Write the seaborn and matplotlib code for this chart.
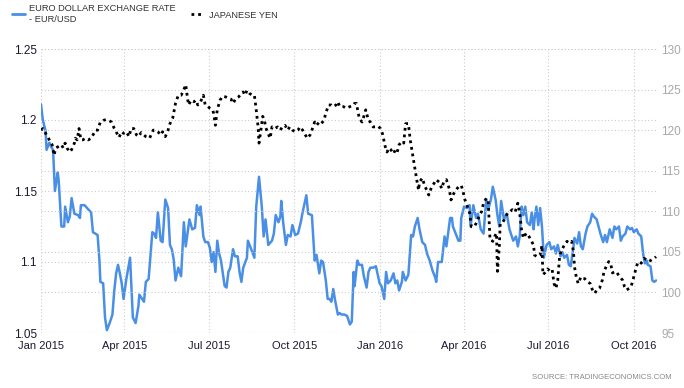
import numpy as np
import pandas as pd
import matplotlib
matplotlib.use('Agg')
import matplotlib.pyplot as plt
from matplotlib.lines import Line2D
import seaborn as sns

# days since 2015-01-01 and values
eur_days = [0, 2, 5, 6, 9, 11, 13, 15, 18, 19, 22, 25, 26, 29, 31, 33, 36, 40, 42, 43, 47, 51, 54, 56, 61, 63, 64, 67, 69, 71,
            74, 77, 79, 81, 83, 85, 87, 89, 92, 96, 99, 102, 105, 106, 111, 113, 116, 120, 122, 124, 126, 129, 131, 134, 137, 139,
            141, 143, 145, 148, 151, 154, 156, 160, 163, 166, 168, 171, 172, 175, 177, 180, 182, 184, 186, 188, 190, 192, 194, 198,
            200, 202, 204, 207, 209, 212, 214, 216, 218, 222, 223, 226, 230, 232, 235, 238, 240, 242, 245, 249, 251, 253, 256, 258,
            259, 261, 264, 266, 269, 271, 274, 277, 280, 282, 286, 288, 292, 295, 297, 300, 302, 304, 307, 309, 311, 313, 315, 317,
            320, 322, 324, 327, 330, 333, 335, 337, 338, 341, 343, 346, 348, 351, 353, 355, 358, 361, 363, 365, 367, 370, 372, 374,
            377, 380, 382, 384, 386, 389, 390, 393, 396, 399, 401, 403, 406, 408, 411, 414, 416, 419, 422, 425, 426, 428, 431, 432,
            435, 437, 441, 443, 444, 447, 450, 452, 453, 456, 459, 462, 463, 466, 469, 471, 474, 477, 480, 482, 485, 487, 490, 492,
            494, 496, 499, 502, 505, 506, 509, 512, 514, 516, 518, 520, 522, 524, 527, 529, 531, 532, 534, 536, 538, 540, 542, 545,
            548, 550, 553, 555, 557, 560, 562, 564, 567, 569, 571, 574, 575, 578, 580, 582, 584, 587, 589, 592, 594, 596, 599, 601,
            603, 606, 608, 610, 613, 616, 618, 620, 623, 625, 627, 630, 632, 635, 637, 639, 642, 644, 647, 649, 651, 653, 654, 657,
            659, 661, 663]
eur_usd = [1.211, 1.200, 1.192, 1.179, 1.184, 1.181, 1.179, 1.150, 1.163, 1.158, 1.125, 1.125, 1.139, 1.128, 1.132, 1.145,
           1.134, 1.133, 1.131, 1.140, 1.140, 1.137, 1.135, 1.121, 1.119, 1.101, 1.086, 1.085, 1.061, 1.052, 1.057, 1.063, 1.080,
           1.092, 1.098, 1.092, 1.085, 1.074, 1.088, 1.103, 1.061, 1.057, 1.069, 1.077, 1.072, 1.086, 1.088, 1.121, 1.120, 1.117,
           1.135, 1.115, 1.114, 1.144, 1.138, 1.112, 1.109, 1.102, 1.087, 1.096, 1.090, 1.128, 1.111, 1.130, 1.123, 1.124, 1.140,
           1.133, 1.139, 1.118, 1.114, 1.114, 1.110, 1.100, 1.107, 1.093, 1.115, 1.106, 1.101, 1.083, 1.082, 1.093, 1.096, 1.109,
           1.104, 1.104, 1.093, 1.086, 1.096, 1.103, 1.115, 1.110, 1.103, 1.139, 1.160, 1.139, 1.118, 1.130, 1.112, 1.115, 1.120,
           1.133, 1.128, 1.132, 1.143, 1.128, 1.112, 1.119, 1.118, 1.126, 1.119, 1.120, 1.128, 1.135, 1.147, 1.134, 1.133, 1.101,
           1.105, 1.092, 1.101, 1.100, 1.087, 1.074, 1.074, 1.072, 1.081, 1.073, 1.063, 1.064, 1.063, 1.063, 1.062, 1.056, 1.058,
           1.093, 1.083, 1.101, 1.098, 1.098, 1.090, 1.082, 1.093, 1.096, 1.096, 1.097, 1.091, 1.085, 1.083, 1.074, 1.093, 1.085,
           1.087, 1.092, 1.085, 1.087, 1.080, 1.086, 1.093, 1.087, 1.091, 1.119, 1.118, 1.125, 1.131, 1.123, 1.114, 1.112, 1.106,
           1.101, 1.094, 1.089, 1.086, 1.100, 1.100, 1.100, 1.118, 1.111, 1.131, 1.131, 1.125, 1.120, 1.115, 1.115, 1.131, 1.139,
           1.138, 1.140, 1.125, 1.140, 1.131, 1.134, 1.123, 1.120, 1.144, 1.137, 1.144, 1.153, 1.144, 1.133, 1.125, 1.143, 1.130,
           1.134, 1.123, 1.121, 1.115, 1.118, 1.111, 1.118, 1.139, 1.133, 1.139, 1.128, 1.126, 1.135, 1.123, 1.130, 1.139, 1.126,
           1.138, 1.125, 1.103, 1.112, 1.114, 1.109, 1.111, 1.106, 1.112, 1.104, 1.107, 1.103, 1.105, 1.098, 1.097, 1.111, 1.117,
           1.113, 1.121, 1.111, 1.109, 1.120, 1.125, 1.128, 1.134, 1.132, 1.130, 1.125, 1.120, 1.114, 1.119, 1.114, 1.123, 1.117,
           1.125, 1.123, 1.125, 1.115, 1.118, 1.120, 1.125, 1.123, 1.124, 1.121, 1.123, 1.120, 1.118, 1.106, 1.099, 1.101, 1.098,
           1.097, 1.087, 1.086, 1.087]

yen_days = [0, 2, 5, 8, 10, 12, 14, 16, 19, 22, 24, 26, 28, 31, 33, 36, 37, 39, 41, 43, 45, 48, 51, 54, 56, 59, 61, 64, 67, 70,
            73, 76, 79, 81, 84, 87, 89, 92, 95, 97, 100, 103, 105, 108, 111, 113, 117, 121, 123, 126, 129, 131, 134, 137, 139, 142,
            145, 148, 151, 153, 156, 157, 159, 162, 165, 167, 169, 172, 175, 177, 180, 182, 185, 186, 188, 190, 193, 196, 199, 202,
            205, 207, 210, 213, 216, 218, 220, 222, 225, 228, 230, 232, 234, 235, 237, 239, 241, 242, 244, 247, 249, 252, 255, 258,
            260, 263, 266, 268, 271, 274, 277, 279, 282, 284, 287, 290, 292, 295, 297, 300, 302, 305, 307, 310, 313, 315, 318, 320,
            322, 326, 329, 333, 337, 338, 340, 343, 346, 348, 350, 353, 355, 358, 361, 363, 366, 368, 371, 373, 375, 377, 380, 382,
            384, 386, 389, 391, 393, 396, 398, 401, 403, 405, 407, 408, 411, 414, 416, 418, 421, 424, 426, 429, 432, 434, 437, 440,
            442, 444, 447, 450, 453, 455, 457, 459, 462, 464, 467, 470, 472, 475, 477, 480, 482, 484, 487, 489, 491, 492, 494, 495,
            498, 500, 503, 505, 508, 511, 514, 516, 518, 520, 523, 525, 528, 531, 532, 535, 538, 540, 541, 543, 546, 549, 551, 553,
            555, 557, 559, 561, 564, 567, 569, 572, 574, 575, 577, 579, 582, 584, 586, 589, 592, 595, 597, 599, 602, 605, 607, 610,
            612, 614, 616, 619, 621, 624, 627, 629, 631, 634, 636, 638, 641, 643, 645, 647, 650, 653, 655, 658, 661, 663]
jpy = [120.0, 120.2, 119.6, 119.0, 118.6, 118.2, 116.9, 117.8, 118.0, 118.2, 117.8, 118.4, 117.8, 117.3, 117.6, 118.4, 119.0,
       118.8, 120.2, 118.8, 118.8, 119.0, 118.8, 119.0, 119.4, 120.0, 120.0, 121.0, 121.2, 121.3, 121.2, 121.0, 120.2, 119.8,
       119.1, 119.8, 119.6, 119.8, 119.2, 120.2, 120.2, 119.4, 119.2, 119.7, 119.4, 119.2, 119.0, 120.0, 120.0, 119.8, 119.4,
       119.8, 119.2, 120.0, 120.8, 121.5, 123.3, 124.3, 124.3, 124.7, 125.6, 124.7, 123.1, 123.7, 123.5, 123.7, 123.1, 123.5,
       124.3, 123.1, 122.9, 122.7, 122.5, 122.1, 120.6, 122.5, 123.7, 124.2, 124.1, 123.9, 123.8, 123.3, 123.9, 124.1, 124.5,
       124.7, 124.3, 124.9, 124.5, 124.3, 124.3, 122.5, 120.4, 118.4, 120.0, 121.7, 121.2, 120.4, 119.8, 119.0, 120.4, 120.2,
       120.4, 120.0, 120.4, 120.6, 120.0, 120.4, 120.0, 119.8, 120.0, 120.4, 120.0, 119.6, 119.0, 119.4, 120.0, 121.0, 120.6,
       121.0, 120.8, 121.2, 122.1, 123.1, 123.1, 122.9, 123.1, 123.5, 122.9, 122.9, 122.7, 122.9, 123.1, 123.3, 123.3, 121.5,
       121.0, 121.7, 122.5, 121.2, 121.0, 120.4, 120.4, 120.5, 120.2, 119.6, 118.0, 117.3, 117.8, 117.6, 117.1, 117.6, 117.3,
       118.2, 118.6, 118.4, 120.8, 120.8, 118.8, 116.7, 115.3, 113.9, 112.6, 113.6, 114.1, 113.0, 112.6, 112.0, 113.0, 113.5,
       113.9, 113.6, 112.8, 113.6, 113.9, 112.8, 111.4, 112.0, 112.6, 113.0, 113.2, 112.4, 111.4, 110.8, 109.8, 108.1, 108.1,
       108.7, 109.3, 110.0, 111.0, 111.6, 111.4, 106.5, 106.3, 106.9, 107.3, 102.6, 105.6, 108.5, 108.7, 109.1, 109.8, 109.9,
       110.2, 109.9, 111.0, 109.8, 107.7, 106.7, 107.3, 107.1, 106.5, 105.8, 104.6, 104.4, 104.6, 105.8, 102.2, 102.4, 102.9,
       102.6, 102.8, 101.1, 100.5, 101.5, 104.4, 105.2, 105.8, 106.3, 106.1, 106.3, 105.0, 103.2, 101.9, 101.1, 101.9, 101.7,
       101.7, 101.3, 101.1, 100.1, 99.9, 100.3, 100.5, 101.5, 102.6, 103.4, 103.8, 103.6, 102.4, 102.6, 102.4, 101.9, 101.5,
       100.7, 100.3, 100.5, 100.7, 101.5, 102.8, 103.6, 103.8, 103.6, 104.2, 104.0, 103.8, 104.0, 104.2, 104.4]

tick_labels = ['Jan 2015', 'Apr 2015', 'Jul 2015', 'Oct 2015', 'Jan 2016', 'Apr 2016', 'Jul 2016', 'Oct 2016']

start = pd.Timestamp('2015-01-01')
df_eur = pd.DataFrame({'date': start + pd.to_timedelta(eur_days, unit='D'), 'value': eur_usd})
df_jpy = pd.DataFrame({'date': start + pd.to_timedelta(yen_days, unit='D'), 'value': jpy})

sns.set_theme(style='white')
plt.rcParams['font.family'] = ['Liberation Sans', 'DejaVu Sans']

blue = '#4a8fe6'
dots = (0, (1, 1.4))
grid_kw = dict(color='#cccccc', linestyle=(0, (1, 2)), linewidth=0.8)

fig = plt.figure(figsize=(6.84, 3.88), dpi=100)
ax = fig.add_axes([41 / 684, 1 - 333 / 388, 616 / 684, 284 / 388])
ax2 = ax.twinx()

sns.lineplot(data=df_eur, x='date', y='value', ax=ax, color=blue, linewidth=1.8)
sns.lineplot(data=df_jpy, x='date', y='value', ax=ax2, color='black', linewidth=2, linestyle=dots)

ax.set_xlim(start, start + pd.Timedelta(days=664))
ax.set_ylim(1.05, 1.25)
ax2.set_ylim(95, 130)

ticks = pd.date_range('2015-01-01', '2016-10-01', freq='QS')
ax.set_xticks(ticks)
ax.set_xticklabels(tick_labels)
ax.set_yticks([1.05, 1.1, 1.15, 1.2, 1.25])
ax.set_yticklabels(['1.05', '1.1', '1.15', '1.2', '1.25'])
ax2.set_yticks(np.arange(95, 131, 5))

ax.grid(True, **grid_kw)
ax2.grid(True, axis='y', **grid_kw)
ax.set_axisbelow(True)
ax2.set_axisbelow(True)
for a in (ax, ax2):
    a.set_xlabel('')
    a.set_ylabel('')
    for s in a.spines.values():
        s.set_visible(False)

ax.tick_params(axis='x', length=4, color='#cccccc', width=0.8, pad=2, labelsize=8, labelcolor='#1a1a2e')
ax.tick_params(axis='y', left=False, length=0, pad=3, labelsize=8.5, labelcolor='#1a1a2e')
ax2.tick_params(axis='y', right=False, length=0, pad=3, labelsize=8.5, labelcolor='#a8a8a8')

handles = [Line2D([], [], color=blue, linewidth=2),
           Line2D([], [], color='black', linewidth=2, linestyle=dots)]
fig.legend(handles, ['EURO DOLLAR EXCHANGE RATE\n- EUR/USD', 'JAPANESE YEN'], loc='upper left',
           bbox_to_anchor=(0.005, 1.01), ncol=2, frameon=False, fontsize=6.7, handlelength=1.4,
           handletextpad=0.5, columnspacing=1.6, labelcolor='#333333')

fig.text(0.982, 0.028, 'SOURCE: TRADINGECONOMICS.COM', ha='right', va='center', fontsize=5.6, color='#888888')

fig.savefig('out.png', dpi=100)
